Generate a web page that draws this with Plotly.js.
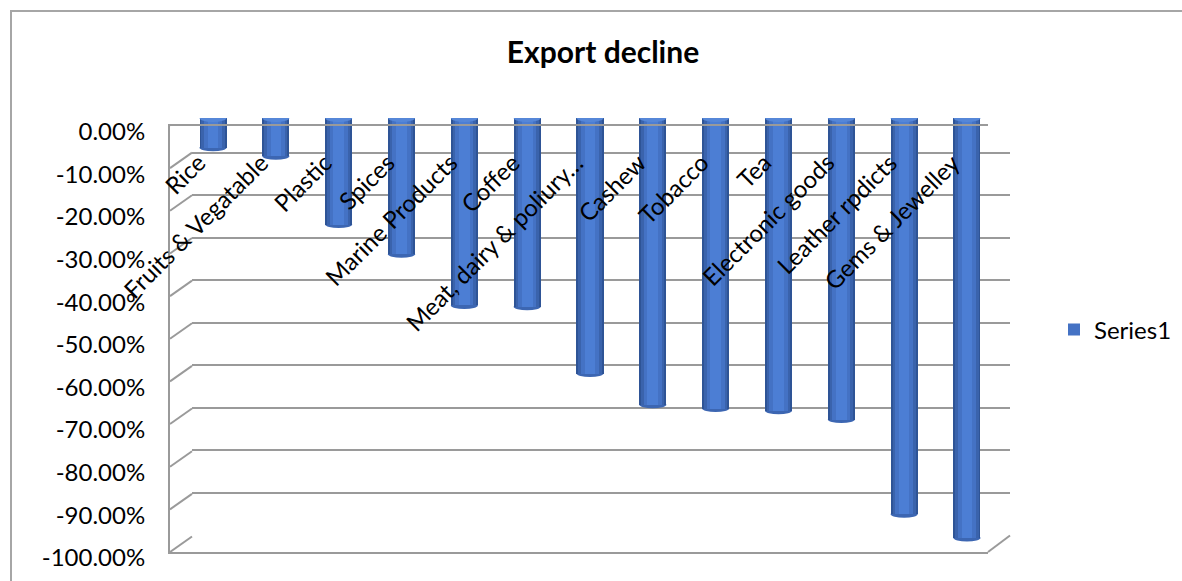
<!DOCTYPE html>
<html><head><meta charset="utf-8">
<script src="https://cdn.plot.ly/plotly-3.0.1.min.js"></script>
<style>html,body{margin:0;padding:0;background:#fff}#chart{width:1182px;height:581px}</style>
</head><body><div id="chart"></div>
<script>
// ---- data ----
const categories = ["Rice","Fruits & Vegatable","Plastic","Spices","Marine Products","Coffee","Meat, dairy & poliury…","Cashew","Tobacco","Tea","Electronic goods","Leather rpdicts","Gems & Jewelley"];
const series1 = [-0.07,-0.09,-0.25,-0.32,-0.44,-0.443,-0.60,-0.673,-0.682,-0.687,-0.708,-0.93,-0.986];
const tickValues = [0,-0.1,-0.2,-0.3,-0.4,-0.5,-0.6,-0.7,-0.8,-0.9,-1];
const tickLabels = ["0.00%","-10.00%","-20.00%","-30.00%","-40.00%","-50.00%","-60.00%","-70.00%","-80.00%","-90.00%","-100.00%"];
const seriesName = "Series1";
const chartTitle = "Export decline";

// ---- layout helpers (pixels -> paper fractions) ----
const W = 1182, H = 581;
const px = x => x / W;
const py = y => (H - y) / H;
const FONT = "Lato, 'Open Sans', sans-serif";
const GRID = "#9a9a9a";

// depth planes
const back  = {x0:192, x1:1010, top:110, bot:535.5};
const mid   = {x0:181.6, x1:998.4, top:118, bot:544};
const front = {x0:170, x1:988, top:125.5, bot:552};
const depthY = front.top - back.top;

// cylinder shading layers
const layers = [
  {w:0.43, c:"#2E5496"},
  {w:0.37, c:"#3A63AC"},
  {w:0.29, c:"#4472C4", legend:true},
  {w:0.17, c:"#4C7ED4"}
];

const traces = [
  {type:"scatter", x:[], y:[], xaxis:"x", yaxis:"y", showlegend:false, hoverinfo:"skip"},
  {type:"scatter", x:[], y:[], xaxis:"x3", yaxis:"y3", showlegend:false, hoverinfo:"skip"}
];
layers.forEach(l => traces.push({
  type:"bar", x:categories, y:series1, xaxis:"x2", yaxis:"y2",
  width:l.w, marker:{color:l.c, line:{width:0}},
  name:seriesName, showlegend:!!l.legend, hoverinfo:"x+y"
}));

const shapes = [];
// chart-area border (top and left visible)
shapes.push({type:"rect", xref:"paper", yref:"paper", x0:px(11), x1:px(1200), y0:py(600), y1:py(11),
  line:{color:"#a6a6a6", width:2}, fillcolor:"rgba(0,0,0,0)", layer:"below"});
// left wall diagonals at each tick
tickValues.forEach(v => shapes.push({type:"line", xref:"paper", x0:px(front.x0), x1:px(back.x0),
  yref:"y3", ysizemode:"pixel", yanchor:v, y0:0, y1:depthY, line:{color:GRID, width:2}, layer:"below"}));
// bottom-right floor diagonal
shapes.push({type:"line", xref:"paper", yref:"paper", x0:px(front.x1), x1:px(back.x1),
  y0:py(front.bot), y1:py(back.bot), line:{color:GRID, width:2}});
// cylinder bottoms and tops
categories.forEach((c,i) => {
  shapes.push({type:"circle", xref:"x2", yref:"y2", xsizemode:"pixel", ysizemode:"pixel",
    xanchor:c, yanchor:series1[i], x0:-13.5, x1:13.5, y0:-3.5, y1:3.5,
    fillcolor:"#3C66B2", line:{width:0}, layer:"below"});
  shapes.push({type:"circle", xref:"x2", yref:"y2", xsizemode:"pixel", ysizemode:"pixel",
    xanchor:c, yanchor:0, x0:-13.5, x1:13.5, y0:-4, y1:4,
    fillcolor:"#5687D8", line:{width:0}, layer:"above"});
});

const annotations = categories.map(c => ({
  xref:"x2", yref:"y2", x:c, y:0, text:c, showarrow:false, textangle:-45,
  xanchor:"right", yanchor:"top", xshift:1, yshift:-27,
  font:{family:FONT, size:24, color:"#000"}
}));

const layout = {
  width:W, height:H, margin:{l:0, r:0, t:0, b:0},
  paper_bgcolor:"#fff", plot_bgcolor:"rgba(0,0,0,0)",
  barmode:"overlay", bargap:0,
  font:{family:FONT, color:"#000"},
  title:{text:chartTitle, x:px(603), y:py(52), xref:"paper", yref:"paper", xanchor:"center", yanchor:"middle",
    font:{family:FONT, size:30, weight:700, color:"#000"}},
  // back wall
  xaxis:{domain:[px(back.x0), px(back.x1)], anchor:"y", visible:false, range:[0,1]},
  yaxis:{domain:[py(back.bot), py(back.top)], anchor:"x", range:[-1,0], tickmode:"array", tickvals:tickValues,
    showticklabels:false, showgrid:true, gridcolor:GRID, gridwidth:2, zeroline:false, showline:false, ticks:""},
  // bars (middle depth)
  xaxis2:{domain:[px(mid.x0), px(mid.x1)], anchor:"y2", type:"category", range:[-0.5, categories.length-0.5],
    showticklabels:false, showgrid:false, zeroline:false, showline:false, ticks:""},
  yaxis2:{domain:[py(mid.bot), py(mid.top)], anchor:"x2", range:[-1,0], visible:false},
  // front frame + labels
  xaxis3:{domain:[px(front.x0), px(front.x1)], anchor:"y3", range:[0,1], showticklabels:false, showgrid:false,
    zeroline:false, showline:true, mirror:true, linecolor:GRID, linewidth:2, ticks:""},
  yaxis3:{domain:[py(front.bot), py(front.top)], anchor:"x3", range:[-1,0], tickmode:"array",
    tickvals:tickValues, ticktext:tickLabels, showgrid:false, zeroline:false, showline:true,
    linecolor:GRID, linewidth:2, ticks:"", ticklabelstandoff:18, ticklabelshift:6,
    tickfont:{family:FONT, size:24, color:"#000"}},
  showlegend:true,
  legend:{x:px(1054), y:py(330), xanchor:"left", yanchor:"middle", bgcolor:"rgba(0,0,0,0)",
    font:{family:FONT, size:24, color:"#000"}},
  shapes:shapes, annotations:annotations
};

Plotly.newPlot("chart", traces, layout, {staticPlot:true, displayModeBar:false});
</script></body></html>
